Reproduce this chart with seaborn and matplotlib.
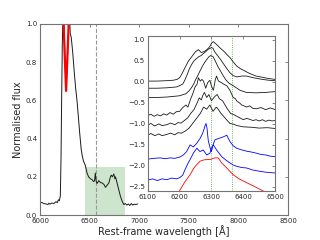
import matplotlib
matplotlib.use('Agg')
import matplotlib.pyplot as plt
import seaborn as sns

# main spectrum (normalised flux)
main_wave = [6000, 6020, 6040, 6060, 6080, 6090, 6100, 6120, 6140, 6160, 6175, 6185,
             6195, 6205, 6212, 6218, 6225, 6232, 6240, 6263, 6290, 6298, 6305, 6315,
             6330, 6345, 6360, 6373, 6389, 6400, 6416, 6430, 6440, 6457, 6474, 6490,
             6508, 6525, 6541, 6550, 6558, 6565, 6575, 6592, 6610, 6626, 6645, 6660,
             6675, 6694, 6710, 6718, 6730, 6744, 6755, 6761, 6777, 6795, 6812, 6830,
             6845, 6860, 6875, 6890, 6905, 6920, 6935, 6950, 6965, 6985]
main_flux = [0.067, 0.065, 0.060, 0.058, 0.055, 0.062, 0.057, 0.063, 0.060, 0.070, 0.065, 0.080,
             0.075, 0.100, 0.300, 0.600, 0.900, 1.050, 1.020, 0.650, 1.000, 1.030, 0.950, 0.930,
             0.850, 0.750, 0.660, 0.600, 0.500, 0.430, 0.340, 0.300, 0.280, 0.260, 0.220, 0.200,
             0.190, 0.185, 0.175, 0.180, 0.220, 0.180, 0.165, 0.180, 0.170, 0.168, 0.160, 0.145,
             0.155, 0.168, 0.200, 0.209, 0.200, 0.215, 0.190, 0.200, 0.168, 0.130, 0.096, 0.070,
             0.055, 0.060, 0.052, 0.058, 0.050, 0.060, 0.052, 0.057, 0.055, 0.058]
red_wave = [6235, 6248, 6263, 6278, 6293]
red_flux = [1.05, 0.85, 0.65, 0.85, 1.05]

# inset: offset spectra around [O I]
inset_black = [
    ([6100, 6130, 6160, 6180, 6192, 6200, 6208, 6217, 6228, 6238, 6250, 6259, 6268, 6276,
      6284, 6290, 6296, 6300, 6306, 6315, 6327, 6336, 6343, 6350, 6358, 6368, 6379, 6390,
      6400, 6420, 6440, 6460, 6480, 6500],
     [0.02, 0.02, 0.03, 0.04, 0.06, 0.10, 0.20, 0.34, 0.50, 0.60, 0.72, 0.77, 0.70, 0.72,
      0.76, 0.80, 0.86, 0.92, 0.96, 0.90, 0.81, 0.75, 0.70, 0.64, 0.58, 0.48, 0.38, 0.32,
      0.28, 0.20, 0.14, 0.11, 0.08, 0.06]),
    ([6100, 6130, 6160, 6190, 6200, 6210, 6217, 6224, 6230, 6238, 6245, 6252, 6260, 6268,
      6275, 6282, 6290, 6296, 6300, 6305, 6310, 6318, 6327, 6338, 6348, 6358, 6368, 6380,
      6395, 6410, 6431, 6460, 6480, 6500],
     [-0.15, -0.15, -0.14, -0.12, -0.09, -0.05, 0.05, 0.18, 0.30, 0.42, 0.50, 0.55, 0.60, 0.63,
      0.68, 0.72, 0.78, 0.80, 0.82, 0.80, 0.72, 0.64, 0.55, 0.43, 0.32, 0.22, 0.15, 0.12,
      0.14, 0.14, 0.10, 0.06, 0.04, 0.03]),
    ([6100, 6130, 6160, 6200, 6220, 6230, 6238, 6245, 6250, 6257, 6264, 6272, 6280, 6285,
      6292, 6298, 6305, 6310, 6315, 6320, 6327, 6335, 6345, 6355, 6368, 6380, 6390, 6410,
      6440, 6470, 6500],
     [-0.37, -0.37, -0.36, -0.33, -0.28, -0.21, -0.13, -0.04, 0.05, 0.15, 0.26, 0.38, 0.48, 0.53,
      0.60, 0.63, 0.60, 0.53, 0.45, 0.37, 0.28, 0.17, 0.05, -0.03, -0.09, -0.15, -0.20, -0.25,
      -0.26, -0.25, -0.23]),
    ([6100, 6110, 6120, 6130, 6140, 6150, 6160, 6170, 6180, 6190, 6200, 6210, 6220, 6226,
      6235, 6242, 6248, 6255, 6259, 6265, 6270, 6275, 6282, 6288, 6295, 6300, 6306, 6312,
      6316, 6322, 6332, 6340, 6348, 6358, 6368, 6375, 6380, 6388, 6395, 6402, 6410, 6420,
      6430, 6442, 6455, 6470, 6485, 6500],
     [-0.80, -0.77, -0.82, -0.78, -0.81, -0.76, -0.79, -0.73, -0.77, -0.71, -0.70, -0.61, -0.55, -0.60,
      -0.40, -0.27, -0.13, -0.05, 0.10, 0.02, 0.06, 0.02, -0.15, -0.02, 0.04, -0.10, -0.20, 0.05,
      0.14, 0.02, -0.02, -0.06, -0.09, -0.20, -0.37, -0.40, -0.46, -0.50, -0.55, -0.57, -0.60, -0.57,
      -0.63, -0.64, -0.61, -0.66, -0.62, -0.66]),
    ([6100, 6110, 6122, 6135, 6145, 6160, 6172, 6185, 6195, 6205, 6215, 6225, 6235, 6245,
      6255, 6262, 6268, 6273, 6278, 6285, 6292, 6300, 6305, 6310, 6318, 6325, 6335, 6348,
      6360, 6370, 6380, 6390, 6400, 6410, 6420, 6430, 6440, 6450, 6460, 6470, 6480, 6490,
      6500],
     [-1.03, -0.99, -1.05, -1.00, -1.04, -1.02, -0.98, -1.02, -0.97, -0.98, -0.92, -0.86, -0.75, -0.66,
      -0.50, -0.38, -0.43, -0.32, -0.25, -0.37, -0.30, -0.45, -0.40, -0.35, -0.30, -0.40, -0.45, -0.62,
      -0.75, -0.78, -0.82, -0.86, -0.90, -0.87, -0.89, -0.92, -0.90, -0.93, -0.90, -0.94, -0.91, -0.93,
      -0.92]),
    ([6100, 6110, 6122, 6135, 6145, 6160, 6172, 6185, 6195, 6206, 6218, 6230, 6240, 6250,
      6258, 6265, 6270, 6275, 6285, 6295, 6305, 6315, 6322, 6330, 6345, 6358, 6370, 6380,
      6400, 6425, 6450, 6475, 6500],
     [-1.27, -1.23, -1.28, -1.24, -1.28, -1.25, -1.22, -1.26, -1.21, -1.22, -1.17, -1.10, -1.00, -0.90,
      -0.82, -0.75, -0.68, -0.60, -0.65, -0.55, -0.70, -0.60, -0.66, -0.75, -0.88, -0.99, -1.01, -1.04,
      -1.07, -1.08, -1.10, -1.09, -1.11]),
]
inset_blue = [
    ([6100, 6120, 6139, 6155, 6170, 6185, 6201, 6212, 6222, 6233, 6243, 6254, 6264, 6272,
      6277, 6280, 6283, 6286, 6290, 6295, 6300, 6305, 6311, 6318, 6325, 6337, 6348, 6358,
      6368, 6379, 6395, 6410, 6425, 6442, 6456, 6470, 6485, 6499],
     [-1.84, -1.82, -1.81, -1.83, -1.81, -1.82, -1.79, -1.74, -1.66, -1.50, -1.55, -1.46, -1.35, -1.23,
      -1.12, -1.04, -0.99, -1.10, -1.40, -1.55, -1.66, -1.50, -1.38, -1.36, -1.34, -1.31, -1.27, -1.42,
      -1.52, -1.58, -1.62, -1.65, -1.67, -1.70, -1.73, -1.74, -1.77, -1.78]),
    ([6100, 6115, 6130, 6145, 6160, 6175, 6190, 6201, 6210, 6217, 6225, 6233, 6243, 6254,
      6264, 6274, 6285, 6295, 6300, 6306, 6316, 6324, 6332, 6345, 6358, 6368, 6379, 6395,
      6410, 6430, 6452, 6470, 6485, 6499],
     [-2.34, -2.31, -2.35, -2.31, -2.33, -2.29, -2.31, -2.28, -2.22, -2.09, -1.96, -1.85, -1.70, -1.58,
      -1.66, -1.62, -1.74, -1.70, -1.58, -1.50, -1.62, -1.70, -1.78, -1.86, -1.93, -1.98, -2.01, -2.04,
      -2.05, -2.10, -2.13, -2.15, -2.16, -2.17]),
]
red_inset_wave = [6195, 6201, 6215, 6233, 6245, 6254, 6264, 6275, 6285, 6295, 6303, 6311,
                  6321, 6332, 6348, 6368, 6389, 6405, 6421, 6437, 6452, 6463, 6470]
red_inset_flux = [-2.65, -2.58, -2.40, -2.21, -2.05, -1.97, -1.89, -1.86, -1.85, -1.85, -1.83, -1.81,
                  -1.81, -1.93, -2.05, -2.21, -2.32, -2.38, -2.44, -2.50, -2.56, -2.60, -2.65]

halpha = 6563
oi_lines = [6300, 6364]
span_lo, span_hi, span_top = 6450, 6860, 0.25

sns.set_theme(style='white')
plt.rcParams['font.family'] = ['DejaVu Sans']
frame = '0.45'

fig = plt.figure(figsize=(3.2, 2.4), dpi=100)
ax = fig.add_axes([0.125, 0.104, 0.775, 0.796])

ax.axvspan(span_lo, span_hi, ymax=span_top, color='green', alpha=0.2, lw=0)
ax.axvline(halpha, color='0.6', ls='--', lw=0.8)
sns.lineplot(x=main_wave, y=main_flux, sort=False, estimator=None, color='k', lw=0.7, ax=ax)
sns.lineplot(x=red_wave, y=red_flux, sort=False, estimator=None, color='red', lw=1.6, ax=ax)
ax.set_xlim(6000, 8500)
ax.set_ylim(0, 1)
ax.set_xticks([6000, 6500, 7000, 7500, 8000, 8500])
ax.set_yticks([0.0, 0.2, 0.4, 0.6, 0.8, 1.0])
ax.set_xlabel('Rest-frame wavelength [Å]', fontsize=7, labelpad=1)
ax.set_ylabel('Normalised flux', fontsize=7, labelpad=2)

ins = fig.add_axes([0.4616, 0.204, 0.3984, 0.647])
for x in oi_lines:
    ins.axvline(x, color='#3a9a3a', ls=':', lw=0.6, zorder=0)
for w, f in inset_black:
    sns.lineplot(x=w, y=f, sort=False, estimator=None, color='k', lw=0.6, ax=ins)
for w, f in inset_blue:
    sns.lineplot(x=w, y=f, sort=False, estimator=None, color='blue', lw=0.6, ax=ins)
sns.lineplot(x=red_inset_wave, y=red_inset_flux, sort=False, estimator=None,
             color='red', lw=0.6, ax=ins)
ins.set_xlim(6100, 6500)
ins.set_ylim(-2.6, 1.1)
ins.set_xticks([6100, 6200, 6300, 6400, 6500])
ins.set_yticks([-2.5, -2.0, -1.5, -1.0, -0.5, 0.0, 0.5, 1.0])

for a in (ax, ins):
    a.tick_params(direction='in', top=True, right=True, labelsize=5, length=2.5,
                  width=0.6, color=frame, pad=2)
    for s in a.spines.values():
        s.set_color(frame)
        s.set_linewidth(0.8)

fig.savefig('out.png', dpi=100)
